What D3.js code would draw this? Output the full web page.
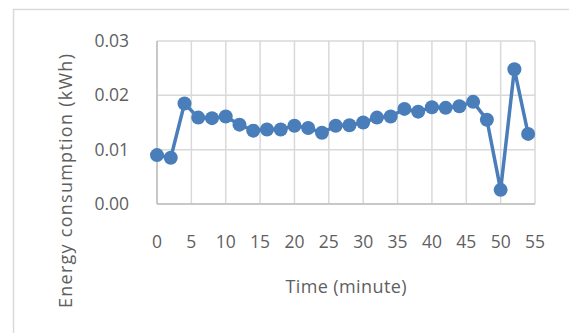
<!DOCTYPE html>
<html>
<head>
<meta charset="utf-8">
<script src="https://cdn.jsdelivr.net/npm/d3@7"></script>
<style>
  html, body { margin: 0; padding: 0; background: #fff; }
  svg { display: block; }
  text { font-family: "Open Sans", "Noto Sans", sans-serif; fill: #5f5f5f; }
</style>
</head>
<body>
<svg id="chart" width="569" height="333"></svg>
<script>
// Energy consumed per 2-minute interval
const times = [0, 2, 4, 6, 8, 10, 12, 14, 16, 18, 20, 22, 24, 26, 28, 30, 32, 34, 36, 38, 40, 42, 44, 46, 48, 50, 52, 54];
const energy = [0.0090, 0.0085, 0.0185, 0.0159, 0.0158, 0.0161, 0.0146, 0.0135, 0.0137, 0.0137, 0.0144, 0.0140, 0.0131, 0.0144,
                0.0145, 0.0150, 0.0159, 0.0161, 0.0175, 0.0170, 0.0178, 0.0177, 0.0180, 0.0188, 0.0155, 0.0026, 0.0248, 0.0129];
const xTicks = [0, 5, 10, 15, 20, 25, 30, 35, 40, 45, 50, 55];
const yTicks = [0, 0.01, 0.02, 0.03];
const xTitle = "Time (minute)";
const yTitle = "Energy consumption (kWh)";

const svg = d3.select("#chart");
const plot = { left: 157, right: 535, top: 41, bottom: 204 };

// chart area frame
svg.append("rect")
  .attr("x", 13.5).attr("y", 9.5)
  .attr("width", 600).attr("height", 400)
  .attr("fill", "none").attr("stroke", "#d9d9d9").attr("stroke-width", 1.5);

const x = d3.scaleLinear().domain([0, 55]).range([plot.left, plot.right]);
const y = d3.scaleLinear().domain([0, 0.03]).range([plot.bottom, plot.top]);

// gridlines
svg.append("g").selectAll("line").data(yTicks).join("line")
  .attr("x1", plot.left).attr("x2", plot.right)
  .attr("y1", d => y(d)).attr("y2", d => y(d))
  .attr("stroke", "#d9d9d9").attr("stroke-width", 1.5);
svg.append("g").selectAll("line").data(xTicks).join("line")
  .attr("x1", d => x(d)).attr("x2", d => x(d))
  .attr("y1", plot.top).attr("y2", plot.bottom)
  .attr("stroke", "#d9d9d9").attr("stroke-width", 1.5);

// axis lines
svg.append("line")
  .attr("x1", plot.left).attr("x2", plot.right)
  .attr("y1", plot.bottom).attr("y2", plot.bottom)
  .attr("stroke", "#bfbfbf").attr("stroke-width", 1.5);
svg.append("line")
  .attr("x1", plot.left).attr("x2", plot.left)
  .attr("y1", plot.top).attr("y2", plot.bottom)
  .attr("stroke", "#bfbfbf").attr("stroke-width", 1.5);

// tick labels
svg.append("g").selectAll("text").data(yTicks).join("text")
  .attr("x", 129).attr("y", d => y(d))
  .attr("dy", "0.35em")
  .attr("text-anchor", "end")
  .style("font-size", "17.5px")
  .text(d => d3.format(".2f")(d));
svg.append("g").selectAll("text").data(xTicks).join("text")
  .attr("x", d => x(d)).attr("y", 242)
  .attr("dy", "0.35em")
  .attr("text-anchor", "middle")
  .style("font-size", "17.5px")
  .text(d => d);

// axis titles
svg.append("text")
  .attr("x", (plot.left + plot.right) / 2).attr("y", 287)
  .attr("dy", "0.35em").attr("text-anchor", "middle")
  .style("font-size", "18px")
  .attr("textLength", 121).attr("lengthAdjust", "spacing")
  .text(xTitle);
svg.append("text")
  .attr("transform", "translate(66,181) rotate(-90)")
  .attr("dy", "0.35em").attr("text-anchor", "middle")
  .style("font-size", "18px")
  .attr("textLength", 254).attr("lengthAdjust", "spacing")
  .text(yTitle);

// series
const pts = times.map((t, i) => [t, energy[i]]);
svg.append("path")
  .datum(pts)
  .attr("fill", "none")
  .attr("stroke", "#4a7ebb")
  .attr("stroke-width", 3.5)
  .attr("stroke-linejoin", "round")
  .attr("d", d3.line().x(d => x(d[0])).y(d => y(d[1])));
svg.append("g").selectAll("circle").data(pts).join("circle")
  .attr("cx", d => x(d[0])).attr("cy", d => y(d[1]))
  .attr("r", 7)
  .attr("fill", "#4a7ebb");
</script>
</body>
</html>
